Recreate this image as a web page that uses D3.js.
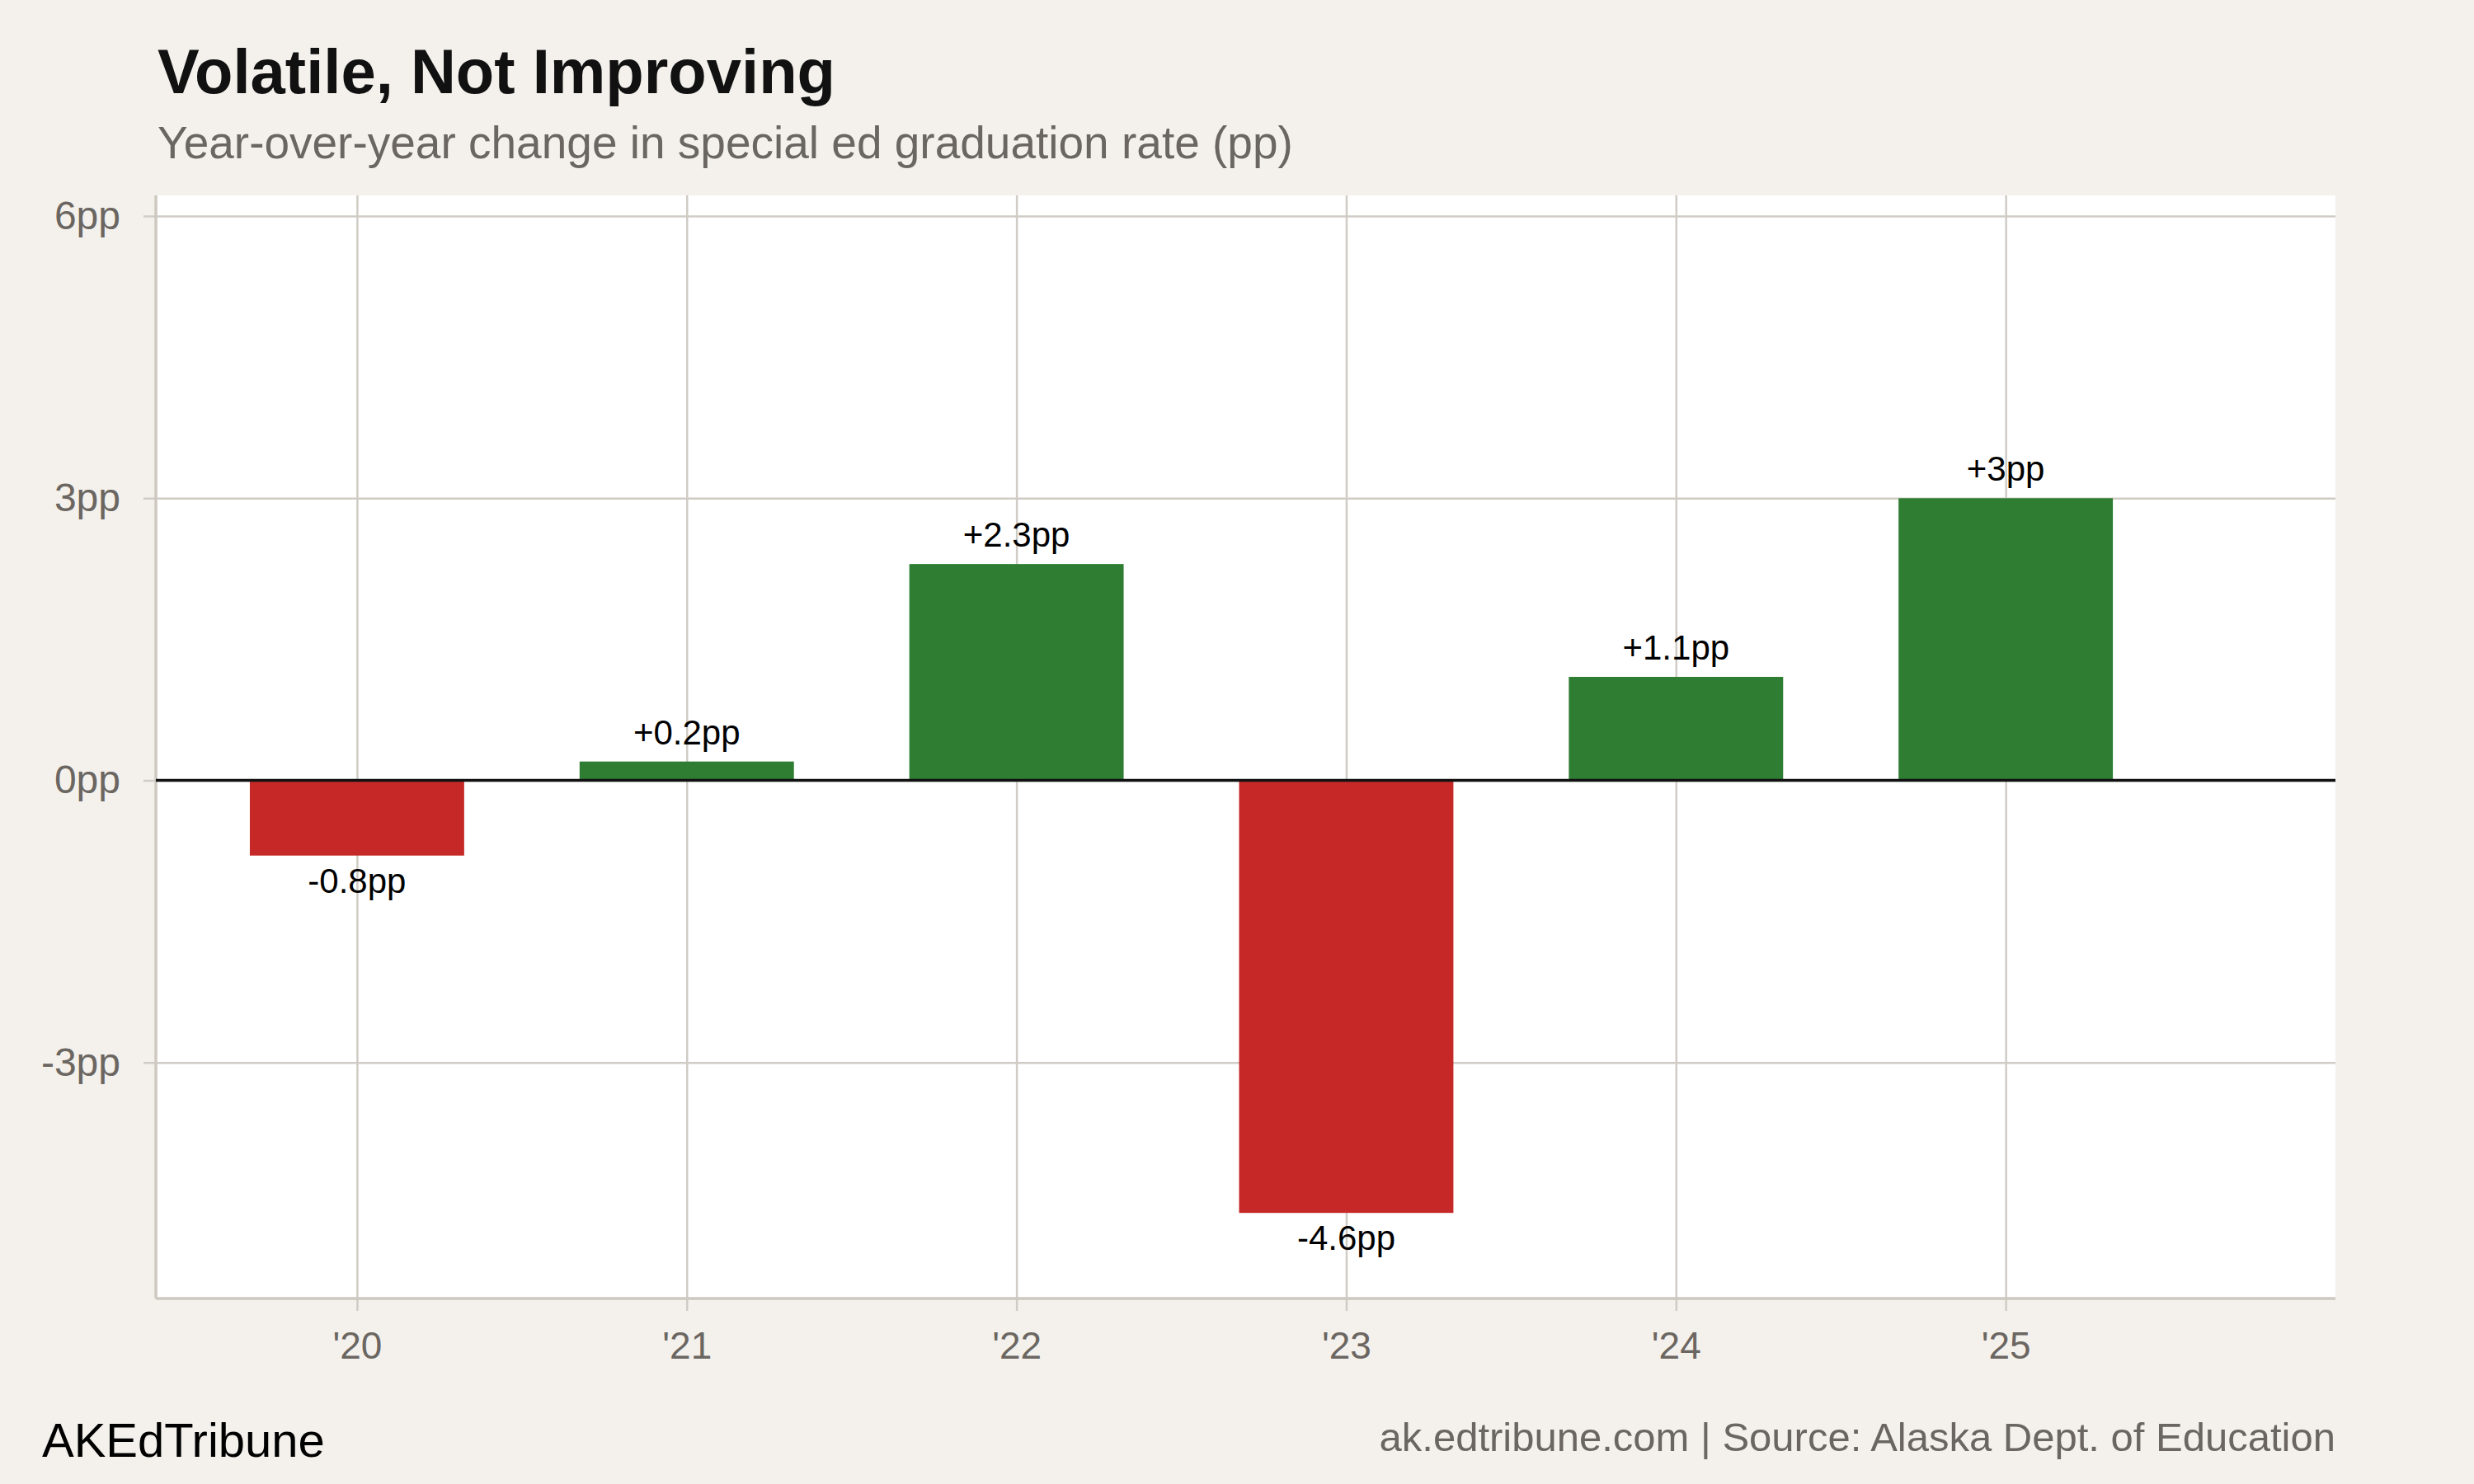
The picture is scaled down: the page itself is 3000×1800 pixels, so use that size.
<!DOCTYPE html>
<html>
<head>
<meta charset="utf-8">
<script src="https://cdn.jsdelivr.net/npm/d3@7"></script>
<style>
  html, body { margin: 0; padding: 0; background: #f4f1ec; }
  svg { display: block; font-family: "Liberation Sans", Arial, Helvetica, sans-serif; }
</style>
</head>
<body>
<svg id="chart" width="3000" height="1800"></svg>
<script>
const years = ["'20", "'21", "'22", "'23", "'24", "'25"];
const changes = [-0.8, 0.2, 2.3, -4.6, 1.1, 3.0];
const yTicks = [-3, 0, 3, 6];

const width = 3000;
const height = 1800;
const margin = { top: 237, right: 168, bottom: 225, left: 189 };
const innerWidth = width - margin.left - margin.right;
const innerHeight = height - margin.top - margin.bottom;

const svg = d3.select("#chart");
svg.append("rect").attr("width", width).attr("height", height).attr("fill", "#f4f1ec");

// Title and subtitle
svg.append("text")
  .attr("x", 191).attr("y", 113)
  .attr("font-size", 76).attr("font-weight", "bold").attr("fill", "#111")
  .text("Volatile, Not Improving");
svg.append("text")
  .attr("x", 191).attr("y", 192)
  .attr("font-size", 55).attr("fill", "#6b6661")
  .text("Year-over-year change in special ed graduation rate (pp)");

const g = svg.append("g").attr("transform", `translate(${margin.left},${margin.top})`);

// Scales
const x = d3.scaleLinear().domain([-0.61, 6.0]).range([0, innerWidth]);
const y = d3.scaleLinear().domain([-5.51, 6.22]).range([innerHeight, 0]);
const barWidth = x(0.65) - x(0);

// Panel
g.append("rect").attr("width", innerWidth).attr("height", innerHeight).attr("fill", "#fff");

const gridColor = "#d0ccc5";

// Horizontal grid + left ticks
g.append("g")
  .attr("class", "y-axis")
  .call(d3.axisLeft(y).tickValues(yTicks).tickSize(-innerWidth).tickPadding(43)
    .tickFormat((d) => d + "pp"))
  .call((a) => a.select(".domain").remove())
  .call((a) => a.selectAll(".tick line").attr("stroke", gridColor).attr("stroke-width", 2.5).attr("x1", -15))
  .call((a) => a.selectAll(".tick text").attr("font-size", 48).attr("fill", "#6b6661")
    .attr("font-family", "Liberation Sans, Arial, sans-serif"));

// Vertical grid + bottom ticks
g.append("g")
  .attr("class", "x-axis")
  .attr("transform", `translate(0,${innerHeight})`)
  .call(d3.axisBottom(x).tickValues(d3.range(years.length)).tickSize(-innerHeight).tickPadding(40)
    .tickFormat((i) => years[i]))
  .call((a) => a.select(".domain").remove())
  .call((a) => a.selectAll(".tick line").attr("stroke", gridColor).attr("stroke-width", 2.5).attr("y1", 15))
  .call((a) => a.selectAll(".tick text").attr("font-size", 46).attr("fill", "#6b6661")
    .attr("font-family", "Liberation Sans, Arial, sans-serif"));

// Panel left and bottom borders
g.append("line").attr("x1", 0).attr("x2", 0).attr("y1", 0).attr("y2", innerHeight)
  .attr("stroke", "#cdc8c0").attr("stroke-width", 3.5);
g.append("line").attr("x1", 0).attr("x2", innerWidth).attr("y1", innerHeight).attr("y2", innerHeight)
  .attr("stroke", "#cdc8c0").attr("stroke-width", 3.5);

// Bars
g.append("g")
  .selectAll("rect")
  .data(changes)
  .join("rect")
  .attr("x", (d, i) => x(i) - barWidth / 2)
  .attr("y", (d) => y(Math.max(0, d)))
  .attr("width", barWidth)
  .attr("height", (d) => Math.abs(y(d) - y(0)))
  .attr("fill", (d) => (d >= 0 ? "#2e7d32" : "#c62828"));

// Zero line
g.append("line").attr("x1", 0).attr("x2", innerWidth).attr("y1", y(0)).attr("y2", y(0))
  .attr("stroke", "#111").attr("stroke-width", 3.5);

// Bar labels
g.append("g")
  .selectAll("text")
  .data(changes)
  .join("text")
  .attr("x", (d, i) => x(i))
  .attr("y", (d) => (d >= 0 ? y(d) - 21 : y(d) + 45))
  .attr("text-anchor", "middle")
  .attr("font-size", 42)
  .attr("fill", "#000")
  .text((d) => (d > 0 ? "+" + d : d) + "pp");

// Footer
svg.append("text")
  .attr("x", 51).attr("y", 1767)
  .attr("font-size", 58).attr("fill", "#000")
  .text("AKEdTribune");
svg.append("text")
  .attr("x", 2832).attr("y", 1760)
  .attr("text-anchor", "end")
  .attr("font-size", 49).attr("fill", "#6b6661")
  .text("ak.edtribune.com | Source: Alaska Dept. of Education");
</script>
</body>
</html>
